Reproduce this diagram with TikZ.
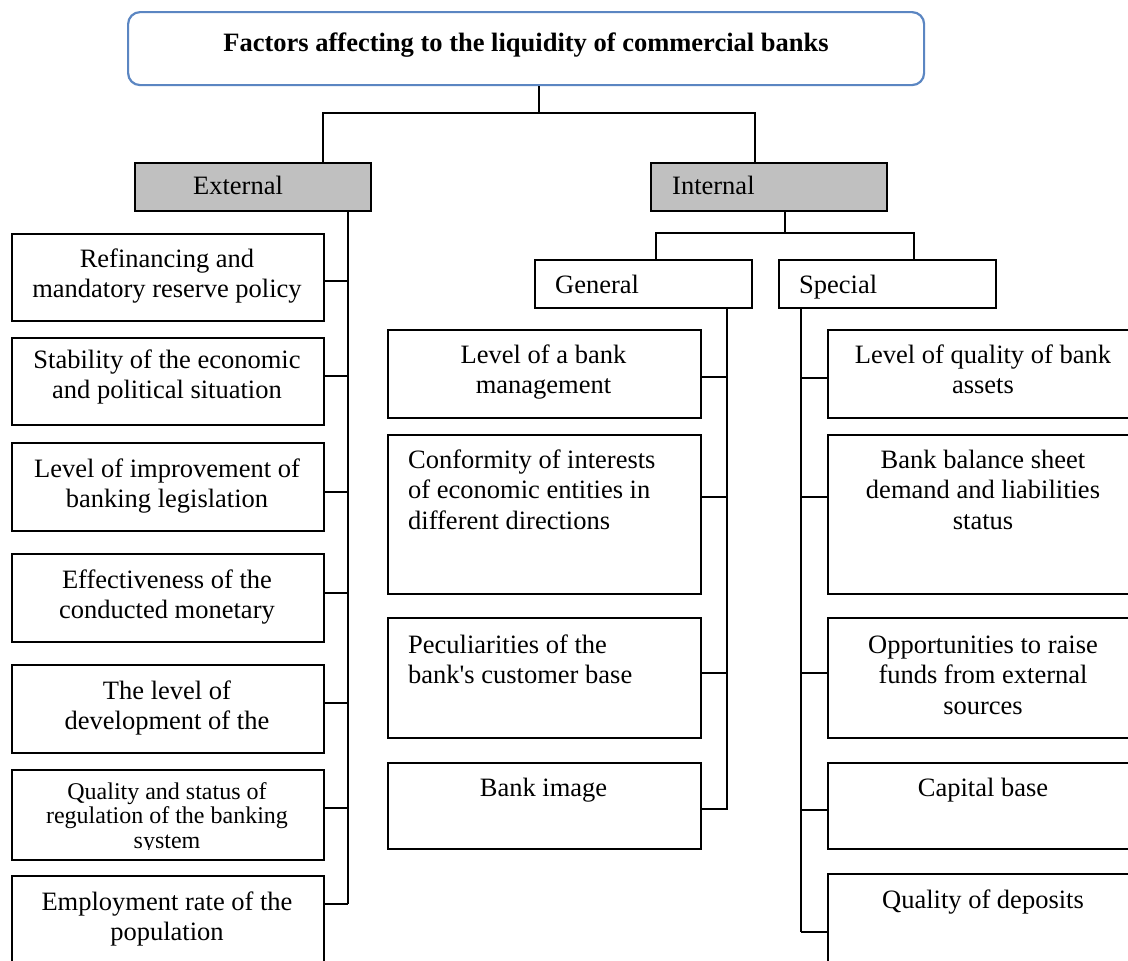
\documentclass[tikz,border=0pt]{standalone}
\usepackage{fontspec}
\setmainfont{Liberation Serif}
\definecolor{boxgray}{HTML}{C0C0C0}
\definecolor{titleblue}{HTML}{5B86C2}
\begin{document}
\begin{tikzpicture}[x=1pt,y=-1pt,
  box/.style={draw, line width=1.6pt, rectangle, inner sep=0pt, anchor=north west},
  gbox/.style={box, fill=boxgray},
  conn/.style={draw, line width=2pt},
  txt/.style={anchor=base, align=center, inner sep=0pt, font=\fontsize{26.5}{30.5}\selectfont},
  ltxt/.style={txt, anchor=base west, align=left},
  stxt/.style={txt, font=\fontsize{24}{24.5}\selectfont},
]
\useasboundingbox (0,0) rectangle (1128,961);
\clip (0,0) rectangle (1128,961);
\fill[white] (0,0) rectangle (1128,961);

% title
\node[box, draw=titleblue, line width=2.2pt, rounded corners=12pt, minimum width=796pt, minimum height=73pt] (title) at (127,11) {};
\node[txt, font=\fontsize{26.5}{30.5}\selectfont\bfseries] (titlet) at (526,51) {Factors affecting to the liquidity of commercial banks};

% level 1
\node[gbox, minimum width=236pt, minimum height=48pt] (ext) at (134,162) {};
\node[txt] (extt) at (238,194) {External};
\node[gbox, minimum width=236pt, minimum height=48pt] (int) at (650,162) {};
\node[ltxt] (intt) at (672,194) {Internal};

% level 2 internal
\node[box, minimum width=217pt, minimum height=48pt] (gen) at (534,259) {};
\node[ltxt] (gent) at (555,293) {General};
\node[box, minimum width=217pt, minimum height=48pt] (spe) at (778,259) {};
\node[ltxt] (spet) at (799,293) {Special};

% external boxes (text anchor = baseline of last line)
\node[box, minimum width=312pt, minimum height=87pt] (e1) at (11,233) {};
\node[txt] (e1t) at (167,297.5) {Refinancing and\\mandatory reserve policy};
\node[box, minimum width=312pt, minimum height=87pt] (e2) at (11,337) {};
\node[txt] (e2t) at (167,398.5) {Stability of the economic\\and political situation};
\node[box, minimum width=312pt, minimum height=88pt] (e3) at (11,442) {};
\node[txt] (e3t) at (167,507.5) {Level of improvement of\\banking legislation};
\node[box, minimum width=312pt, minimum height=88pt] (e4) at (11,553) {};
\node[txt] (e4t) at (167,618.5) {Effectiveness of the\\conducted monetary};
\node[box, minimum width=312pt, minimum height=88pt] (e5) at (11,664) {};
\node[txt] (e5t) at (167,729.5) {The level of\\development of the};
\node[box, minimum width=312pt, minimum height=90pt] (e6) at (11,769) {};
\begin{scope}
\clip (11,769) rectangle (323,849);
\node[stxt] (e6t) at (167,848) {Quality and status of\\regulation of the banking\\system};
\end{scope}
\node[box, minimum width=312pt, minimum height=110pt] (e7) at (11,875) {};
\node[txt] (e7t) at (167,940.5) {Employment rate of the\\population};

% general boxes
\node[box, minimum width=313pt, minimum height=88pt] (g1) at (387,329) {};
\node[txt] (g1t) at (543.5,393.5) {Level of a bank\\management};
\node[box, minimum width=313pt, minimum height=159pt] (g2) at (387,434) {};
\node[ltxt] (g2t) at (408,529) {Conformity of interests\\of economic entities in\\different directions};
\node[box, minimum width=313pt, minimum height=120pt] (g3) at (387,617) {};
\node[ltxt] (g3t) at (408,683.5) {Peculiarities of the\\bank\textquotesingle s customer base};
\node[box, minimum width=313pt, minimum height=86pt] (g4) at (387,762) {};
\node[txt] (g4t) at (543.5,796) {Bank image};

% special boxes
\node[box, minimum width=313pt, minimum height=88pt] (s1) at (827,329) {};
\node[txt] (s1t) at (983,393.5) {Level of quality of bank\\assets};
\node[box, minimum width=313pt, minimum height=159pt] (s2) at (827,434) {};
\node[txt] (s2t) at (983,529) {Bank balance sheet\\demand and liabilities\\status};
\node[box, minimum width=313pt, minimum height=120pt] (s3) at (827,617) {};
\node[txt] (s3t) at (983,714) {Opportunities to raise\\funds from external\\sources};
\node[box, minimum width=313pt, minimum height=86pt] (s4) at (827,762) {};
\node[txt] (s4t) at (983,796) {Capital base};
\node[box, minimum width=313pt, minimum height=110pt] (s5) at (827,873) {};
\node[txt] (s5t) at (983,908) {Quality of deposits};

% connectors: title
\coordinate (tj) at (539,113);
\draw[conn] (title.south -| tj) -- (tj);
\draw[conn] (ext.north -| 323,0) |- (tj) -| (int.north -| 755,0);

% external bus
\coordinate (xb) at (348,904);
\draw[conn] (ext.south -| xb) -- (xb);
\draw[conn] (e1.east |- 0,281) -- (xb |- 0,281);
\draw[conn] (e2.east |- 0,376) -- (xb |- 0,376);
\draw[conn] (e3.east |- 0,492) -- (xb |- 0,492);
\draw[conn] (e4.east |- 0,593) -- (xb |- 0,593);
\draw[conn] (e5.east |- 0,703) -- (xb |- 0,703);
\draw[conn] (e6.east |- 0,808) -- (xb |- 0,808);
\draw[conn] (e7.east |- 0,904) -- (xb);

% internal split
\coordinate (ij) at (785,233);
\draw[conn] (int.south -| ij) -- (ij);
\draw[conn] (gen.north -| 656,0) |- (ij) -| (spe.north -| 914,0);

% general bus
\coordinate (gb) at (727,810);
\draw[conn] (gen.south -| gb) -- (gb);
\draw[conn] (g1.east |- 0,377) -- (gb |- 0,377);
\draw[conn] (g2.east |- 0,497) -- (gb |- 0,497);
\draw[conn] (g3.east |- 0,673) -- (gb |- 0,673);
\draw[conn] (g4.east |- 0,809) -- (gb |- 0,809);

% special bus
\coordinate (sb) at (801,932);
\draw[conn] (spe.south -| sb) -- (sb);
\draw[conn] (s1.west |- 0,378) -- (sb |- 0,378);
\draw[conn] (s2.west |- 0,497) -- (sb |- 0,497);
\draw[conn] (s3.west |- 0,673) -- (sb |- 0,673);
\draw[conn] (s4.west |- 0,810) -- (sb |- 0,810);
\draw[conn] (s5.west |- 0,932) -- (sb);
\end{tikzpicture}
\end{document}
